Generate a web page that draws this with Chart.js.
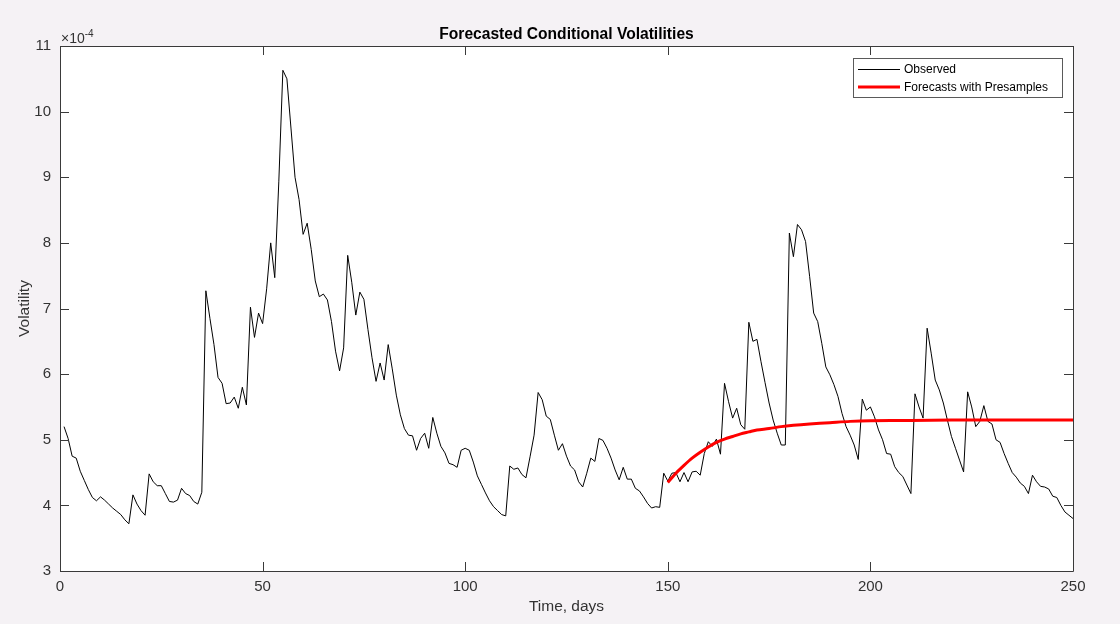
<!DOCTYPE html>
<html lang="en">
<head>
    <meta charset="UTF-8">
    <title>Forecasted Conditional Volatilities</title>
    <script src="https://cdn.jsdelivr.net/npm/chart.js"></script>
    <style>
        body { margin: 0; background: #f5f2f5; }
        canvas { display: block; }
    </style>
</head>
<body>
    <canvas id="chart" width="1120" height="624"></canvas>

    <script>
        // volatilities are in units of 1e-4 (axis shows the exponent separately)
        const observed = [
            5.20, 5.02, 4.75, 4.72, 4.52, 4.38, 4.24, 4.12, 4.07, 4.13,
            4.08, 4.02, 3.96, 3.91, 3.86, 3.78, 3.72, 4.16, 4.02, 3.92,
            3.85, 4.48, 4.36, 4.30, 4.30, 4.18, 4.06, 4.05, 4.08, 4.26,
            4.18, 4.15, 4.06, 4.02, 4.20, 7.27, 6.85, 6.45, 5.95, 5.86,
            5.55, 5.56, 5.65, 5.48, 5.80, 5.53, 7.02, 6.56, 6.93, 6.77,
            7.30, 8.00, 7.47, 8.93, 10.63, 10.50, 9.75, 9.00, 8.66, 8.13,
            8.30, 7.90, 7.42, 7.18, 7.22, 7.13, 6.80, 6.35, 6.05, 6.40,
            7.81, 7.40, 6.90, 7.25, 7.14, 6.68, 6.25, 5.89, 6.17, 5.91,
            6.45, 6.08, 5.68, 5.38, 5.17, 5.07, 5.06, 4.84, 5.02, 5.10,
            4.87, 5.34, 5.10, 4.90, 4.80, 4.64, 4.62, 4.58, 4.84, 4.87,
            4.84, 4.66, 4.45, 4.32, 4.19, 4.07, 3.98, 3.92, 3.86, 3.84,
            4.60, 4.55, 4.57, 4.47, 4.42, 4.74, 5.07, 5.72, 5.61, 5.36,
            5.31, 5.07, 4.84, 4.94, 4.75, 4.60, 4.54, 4.36, 4.28, 4.49,
            4.72, 4.67, 5.02, 4.99, 4.87, 4.72, 4.54, 4.39, 4.58, 4.40,
            4.40, 4.26, 4.22, 4.13, 4.03, 3.96, 3.98, 3.97, 4.49, 4.37,
            4.49, 4.50, 4.36, 4.50, 4.36, 4.51, 4.52, 4.46, 4.79, 4.97,
            4.90, 5.01, 4.78, 5.86, 5.58, 5.33, 5.48, 5.23, 5.16, 6.79,
            6.50, 6.53, 6.19, 5.87, 5.56, 5.30, 5.10, 4.92, 4.92, 8.15,
            7.79, 8.28, 8.20, 8.02, 7.49, 6.93, 6.80, 6.47, 6.11, 5.99,
            5.84, 5.66, 5.40, 5.20, 5.07, 4.92, 4.70, 5.62, 5.45, 5.50,
            5.35, 5.15, 5.00, 4.79, 4.78, 4.59, 4.50, 4.44, 4.31, 4.18,
            5.70, 5.50, 5.33, 6.70, 6.32, 5.91, 5.76, 5.56, 5.30, 5.05,
            4.87, 4.69, 4.51, 5.73, 5.50, 5.20, 5.28, 5.52, 5.28, 5.24,
            5.00, 4.96, 4.79, 4.64, 4.50, 4.43, 4.34, 4.29, 4.18, 4.46,
            4.36, 4.29, 4.28, 4.25, 4.14, 4.12, 4.00, 3.90, 3.85, 3.80
        ];
        const days = observed.map((v, i) => i + 1);

        const forecastDays = [150, 152, 154, 156, 158, 160, 162, 164, 166, 168,
                              170, 172, 175, 178, 181, 185, 190, 195, 200, 210, 220, 235, 250];
        const forecastVals = [4.35, 4.49, 4.61, 4.72, 4.81, 4.89, 4.96, 5.01, 5.05, 5.09,
                              5.12, 5.15, 5.17, 5.20, 5.22, 5.24, 5.26, 5.28, 5.29, 5.295, 5.30, 5.30, 5.30];

        const xTicks = [0, 50, 100, 150, 200, 250];
        const yTicks = [3, 4, 5, 6, 7, 8, 9, 10, 11];

        const FONT = '"Liberation Sans", Arial, Helvetica, sans-serif';
        const AXIS_COLOR = '#3a3a3a';
        const TEXT_COLOR = '#333333';

        // matlab-ish frame: white axes, box on all four sides, ticks pointing inwards
        const matlabFrame = {
            id: 'matlabFrame',
            beforeDraw(chart) {
                const ctx = chart.ctx, a = chart.chartArea;
                ctx.save();
                ctx.fillStyle = '#f5f2f5';
                ctx.fillRect(0, 0, chart.width, chart.height);
                ctx.fillStyle = '#ffffff';
                ctx.fillRect(a.left, a.top, a.right - a.left, a.bottom - a.top);
                ctx.restore();
            },
            afterDraw(chart) {
                const ctx = chart.ctx, a = chart.chartArea;
                const xs = chart.scales.x, ys = chart.scales.y;
                const tl = 9;
                ctx.save();
                ctx.strokeStyle = AXIS_COLOR;
                ctx.lineWidth = 1;
                ctx.beginPath();
                ctx.rect(Math.round(a.left) + 0.5, Math.round(a.top) + 0.5,
                         Math.round(a.right - a.left), Math.round(a.bottom - a.top));
                xTicks.forEach(t => {
                    const px = Math.round(xs.getPixelForValue(t)) + 0.5;
                    ctx.moveTo(px, a.bottom); ctx.lineTo(px, a.bottom - tl);
                    ctx.moveTo(px, a.top); ctx.lineTo(px, a.top + tl);
                });
                yTicks.forEach(t => {
                    const py = Math.round(ys.getPixelForValue(t)) + 0.5;
                    ctx.moveTo(a.left, py); ctx.lineTo(a.left + tl, py);
                    ctx.moveTo(a.right, py); ctx.lineTo(a.right - tl, py);
                });
                ctx.stroke();

                // title
                ctx.fillStyle = '#000';
                ctx.textAlign = 'center';
                ctx.textBaseline = 'alphabetic';
                ctx.font = 'bold 15.6px ' + FONT;
                ctx.fillText('Forecasted Conditional Volatilities', (a.left + a.right) / 2, 39);

                // axis titles
                ctx.fillStyle = TEXT_COLOR;
                ctx.font = '15.5px ' + FONT;
                ctx.textBaseline = 'middle';
                ctx.fillText('Time, days', (a.left + a.right) / 2, 607);
                ctx.save();
                ctx.translate(25, (a.top + a.bottom) / 2);
                ctx.rotate(-Math.PI / 2);
                ctx.fillText('Volatility', 0, 0);
                ctx.restore();

                // exponent label
                ctx.textAlign = 'left';
                ctx.textBaseline = 'alphabetic';
                ctx.font = '14px ' + FONT;
                ctx.fillText('\u00d710', a.left + 1, 43);
                const w = ctx.measureText('\u00d710').width;
                ctx.font = '10px ' + FONT;
                ctx.fillText('-4', a.left + 1 + w, 37);

                // legend
                const lx = 853.5, ly = 58.5, lw = 209, lh = 39;
                ctx.fillStyle = '#ffffff';
                ctx.fillRect(lx, ly, lw, lh);
                ctx.strokeStyle = '#5a5a5a';
                ctx.lineWidth = 1;
                ctx.strokeRect(lx, ly, lw, lh);
                const entries = [chart.data.datasets[1], chart.data.datasets[0]];
                entries.forEach((ds, i) => {
                    const y = 69 + i * 18;
                    const off = ds.borderWidth === 1 ? 0.5 : 0;
                    ctx.strokeStyle = ds.borderColor;
                    ctx.lineWidth = ds.borderWidth;
                    ctx.beginPath();
                    ctx.moveTo(858, y + off);
                    ctx.lineTo(900, y + off);
                    ctx.stroke();
                    ctx.fillStyle = '#000';
                    ctx.font = '12px ' + FONT;
                    ctx.textBaseline = 'middle';
                    ctx.fillText(ds.label, 904, y + 1);
                });
                ctx.restore();
            }
        };

        const ctx = document.getElementById('chart').getContext('2d');
        window.myChart = new Chart(ctx, {
            type: 'line',
            data: {
                datasets: [{
                    label: 'Forecasts with Presamples',
                    data: forecastDays.map((d, i) => ({ x: d, y: forecastVals[i] })),
                    borderColor: '#ff0000',
                    borderWidth: 3,
                    pointRadius: 0,
                    tension: 0.3,
                    fill: false,
                    order: 0
                }, {
                    label: 'Observed',
                    data: days.map((d, i) => ({ x: d, y: observed[i] })),
                    borderColor: '#000000',
                    borderWidth: 1,
                    pointRadius: 0,
                    tension: 0,
                    fill: false,
                    order: 1
                }]
            },
            options: {
                responsive: false,
                animation: false,
                layout: { padding: { top: 46, right: 47, left: 0, bottom: 0 } },
                plugins: {
                    legend: { display: false },
                    tooltip: { enabled: false },
                    title: { display: false }
                },
                scales: {
                    x: {
                        type: 'linear',
                        min: 0,
                        max: 250,
                        afterBuildTicks: s => { s.ticks = xTicks.map(v => ({ value: v })); },
                        afterFit: s => { s.height = 53; },
                        grid: { display: false, drawTicks: false },
                        border: { display: false },
                        ticks: { color: TEXT_COLOR, font: { family: FONT, size: 15 }, padding: 7, maxRotation: 0 }
                    },
                    y: {
                        min: 3,
                        max: 11,
                        afterBuildTicks: s => { s.ticks = yTicks.map(v => ({ value: v })); },
                        afterFit: s => { s.width = 60; },
                        grid: { display: false, drawTicks: false },
                        border: { display: false },
                        ticks: { color: TEXT_COLOR, font: { family: FONT, size: 15 }, padding: 9 }
                    }
                }
            },
            plugins: [matlabFrame]
        });
    </script>
</body>
</html>
